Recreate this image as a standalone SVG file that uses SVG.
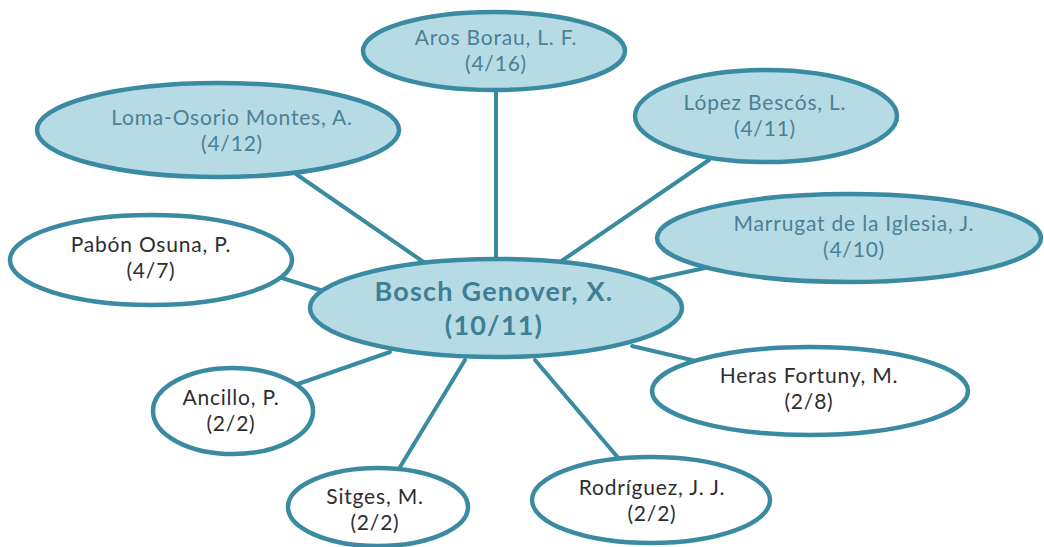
<svg xmlns="http://www.w3.org/2000/svg" width="1044" height="547" viewBox="0 0 1044 547">
  <style>
    .bg { fill: #ffffff; }
    .link { stroke: #3a8aa2; stroke-width: 4; fill: none; stroke-linecap: round; }
    .blue { fill: #b7dbe5; stroke: #3a8aa2; stroke-width: 4.5; }
    .white { fill: #ffffff; stroke: #3a8aa2; stroke-width: 4.5; }
    text { font-family: Lato, "Open Sans", "Liberation Sans", sans-serif; font-size: 21px; letter-spacing: 0.8px; text-anchor: middle; }
    .tb { fill: #4a8195; }
    .tw { fill: #2e2e2e; }
    .main { font-size: 27px; font-weight: bold; letter-spacing: 1.2px; fill: #3e7f93; }
  </style>
  <rect class="bg" x="0" y="0" width="1044" height="547"/>

  <!-- connectors from the central author to each co-author -->
  <g id="connectors">
    <line class="link" x1="496" y1="88" x2="496" y2="262"/>
    <line class="link" x1="296" y1="174" x2="425" y2="263"/>
    <line class="link" x1="709" y1="160" x2="560" y2="262"/>
    <line class="link" x1="705" y1="268" x2="640" y2="282"/>
    <line class="link" x1="282" y1="278" x2="320" y2="290"/>
    <line class="link" x1="295" y1="385" x2="390" y2="352"/>
    <line class="link" x1="397" y1="472" x2="465" y2="360"/>
    <line class="link" x1="535" y1="360" x2="620" y2="460"/>
    <line class="link" x1="632" y1="346" x2="700" y2="362"/>
  </g>

  <g id="node-aros">
    <ellipse class="blue" cx="494" cy="51" rx="131" ry="39"/>
    <text class="tb" x="496" y="45">Aros Borau, L. F.</text>
    <text class="tb" x="496" y="71">(4/16)</text>
  </g>

  <g id="node-loma">
    <ellipse class="blue" cx="218" cy="130" rx="181" ry="47"/>
    <text class="tb" x="232" y="125">Loma-Osorio Montes, A.</text>
    <text class="tb" x="232" y="151">(4/12)</text>
  </g>

  <g id="node-lopez">
    <ellipse class="blue" cx="766" cy="116" rx="131" ry="46"/>
    <text class="tb" x="765" y="110">López Bescós, L.</text>
    <text class="tb" x="765" y="136">(4/11)</text>
  </g>

  <g id="node-marrugat">
    <ellipse class="blue" cx="849" cy="238" rx="192" ry="44"/>
    <text class="tb" x="854" y="231">Marrugat de la Iglesia, J.</text>
    <text class="tb" x="854" y="257">(4/10)</text>
  </g>

  <g id="node-pabon">
    <ellipse class="white" cx="151" cy="260" rx="141" ry="45"/>
    <text class="tw" x="151" y="252">Pabón Osuna, P.</text>
    <text class="tw" x="151" y="278">(4/7)</text>
  </g>

  <g id="node-heras">
    <ellipse class="white" cx="810" cy="391" rx="158" ry="44"/>
    <text class="tw" x="809" y="383">Heras Fortuny, M.</text>
    <text class="tw" x="809" y="409">(2/8)</text>
  </g>

  <g id="node-ancillo">
    <ellipse class="white" cx="233" cy="411" rx="80" ry="43"/>
    <text class="tw" x="231" y="405">Ancillo, P.</text>
    <text class="tw" x="231" y="431">(2/2)</text>
  </g>

  <g id="node-sitges">
    <ellipse class="white" cx="378" cy="507" rx="90" ry="39"/>
    <text class="tw" x="375" y="504">Sitges, M.</text>
    <text class="tw" x="375" y="530">(2/2)</text>
  </g>

  <g id="node-rodriguez">
    <ellipse class="white" cx="651" cy="500" rx="119" ry="43"/>
    <text class="tw" x="652" y="495">Rodríguez, J. J.</text>
    <text class="tw" x="652" y="521">(2/2)</text>
  </g>

  <g id="node-bosch">
    <ellipse class="blue" cx="496" cy="308" rx="186" ry="49" stroke-width="5"/>
    <text class="main" x="494" y="301">Bosch Genover, X.</text>
    <text class="main" x="494" y="335">(10/11)</text>
  </g>
</svg>
